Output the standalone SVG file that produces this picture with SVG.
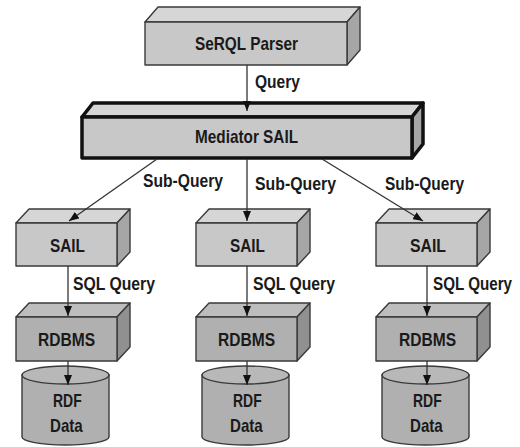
<svg xmlns="http://www.w3.org/2000/svg" width="520" height="447" viewBox="0 0 520 447">
<defs>
<marker id="ah" markerUnits="userSpaceOnUse" markerWidth="10" markerHeight="8" refX="10" refY="4" orient="auto">
<path d="M0,0 L10,4 L0,8 Z" fill="#111"/>
</marker>
<style>
.front{fill:#c8c8c8;stroke:#3a3a3a;stroke-width:1.4;stroke-linejoin:round}
.top{fill:#d6d6d6;stroke:#3a3a3a;stroke-width:1.4;stroke-linejoin:round}
.side{fill:#a6a6a6;stroke:#3a3a3a;stroke-width:1.4;stroke-linejoin:round}
.dfront{fill:#b0b0b0;stroke:#3a3a3a;stroke-width:1.4;stroke-linejoin:round}
.dtop{fill:#bdbdbd;stroke:#3a3a3a;stroke-width:1.4;stroke-linejoin:round}
.dside{fill:#909090;stroke:#3a3a3a;stroke-width:1.4;stroke-linejoin:round}
.thick{stroke:#111;stroke-width:3.5}
.cyl{fill:#b0b0b0;stroke:#3a3a3a;stroke-width:1.4}
.cyltop{fill:#b8b8b8;stroke:#3a3a3a;stroke-width:1.4}
.t{font-family:"Liberation Sans",Arial,sans-serif;font-weight:bold;font-size:19px;fill:#1a1a1a}
.c{stroke:#333;stroke-width:1.3;fill:none;marker-end:url(#ah)}
</style>
</defs>
<g id="serql-parser">
<polygon class="top" points="145,22 158,7 360,7 347,22"/>
<polygon class="side" points="347,22 360,7 360,50 347,65"/>
<rect class="front" x="145" y="22" width="202" height="43"/>
<text class="t" x="195" y="50" textLength="103" lengthAdjust="spacingAndGlyphs">SeRQL Parser</text>
</g>
<g id="mediator-sail">
<polygon class="top thick" points="82,117 93,103 423,103 412,117"/>
<polygon class="side thick" points="412,117 423,103 423,144 412,158"/>
<rect class="front thick" x="82" y="117" width="330" height="41"/>
<text class="t" x="195" y="143" textLength="103" lengthAdjust="spacingAndGlyphs">Mediator SAIL</text>
</g>
<g id="sail-1">
<polygon class="top" points="16,223 29,209 130,209 117,223"/>
<polygon class="side" points="117,223 130,209 130,252 117,266"/>
<rect class="front" x="16" y="223" width="101" height="43"/>
<text class="t" x="50" y="252" textLength="35" lengthAdjust="spacingAndGlyphs">SAIL</text>
</g>
<g id="sail-2">
<polygon class="top" points="196,223 209,209 310,209 297,223"/>
<polygon class="side" points="297,223 310,209 310,252 297,266"/>
<rect class="front" x="196" y="223" width="101" height="43"/>
<text class="t" x="230" y="252" textLength="35" lengthAdjust="spacingAndGlyphs">SAIL</text>
</g>
<g id="sail-3">
<polygon class="top" points="376,223 389,209 490,209 477,223"/>
<polygon class="side" points="477,223 490,209 490,252 477,266"/>
<rect class="front" x="376" y="223" width="101" height="43"/>
<text class="t" x="410" y="252" textLength="36" lengthAdjust="spacingAndGlyphs">SAIL</text>
</g>
<g id="rdbms-1">
<polygon class="dtop" points="16,317 29,303 130,303 117,317"/>
<polygon class="dside" points="117,317 130,303 130,347 117,361"/>
<rect class="dfront" x="16" y="317" width="101" height="44"/>
<text class="t" x="38" y="345.5" textLength="57" lengthAdjust="spacingAndGlyphs">RDBMS</text>
</g>
<g id="rdbms-2">
<polygon class="dtop" points="196,317 209,303 310,303 297,317"/>
<polygon class="dside" points="297,317 310,303 310,347 297,361"/>
<rect class="dfront" x="196" y="317" width="101" height="44"/>
<text class="t" x="218" y="345.5" textLength="57" lengthAdjust="spacingAndGlyphs">RDBMS</text>
</g>
<g id="rdbms-3">
<polygon class="dtop" points="376,317 389,303 490,303 477,317"/>
<polygon class="dside" points="477,317 490,303 490,347 477,361"/>
<rect class="dfront" x="376" y="317" width="101" height="44"/>
<text class="t" x="399" y="345.5" textLength="57" lengthAdjust="spacingAndGlyphs">RDBMS</text>
</g>
<g id="rdf-data-1">
<path class="cyl" d="M22,375 L22,437 A43.5,8 0 0 0 109,437 L109,375 Z"/>
<ellipse class="cyltop" cx="65.5" cy="375" rx="43.5" ry="9"/>
<text class="t" x="53" y="406.7" textLength="28.7" lengthAdjust="spacingAndGlyphs">RDF</text>
<text class="t" x="50" y="431.7" textLength="32.7" lengthAdjust="spacingAndGlyphs">Data</text>
</g>
<g id="rdf-data-2">
<path class="cyl" d="M202,375 L202,437 A43.5,8 0 0 0 289,437 L289,375 Z"/>
<ellipse class="cyltop" cx="245.5" cy="375" rx="43.5" ry="9"/>
<text class="t" x="233" y="406.7" textLength="28.7" lengthAdjust="spacingAndGlyphs">RDF</text>
<text class="t" x="230" y="431.7" textLength="32.7" lengthAdjust="spacingAndGlyphs">Data</text>
</g>
<g id="rdf-data-3">
<path class="cyl" d="M382,375 L382,437 A43.5,8 0 0 0 469,437 L469,375 Z"/>
<ellipse class="cyltop" cx="425.5" cy="375" rx="43.5" ry="9"/>
<text class="t" x="413" y="406.7" textLength="28.7" lengthAdjust="spacingAndGlyphs">RDF</text>
<text class="t" x="410" y="431.7" textLength="32.7" lengthAdjust="spacingAndGlyphs">Data</text>
</g>
<g id="connectors">
<line class="c" x1="247" y1="65" x2="247" y2="111"/>
<line class="c" x1="157" y1="159" x2="69" y2="221"/>
<line class="c" x1="247" y1="159" x2="247" y2="221"/>
<line class="c" x1="322" y1="159" x2="423" y2="221"/>
<line class="c" x1="68" y1="266" x2="68" y2="316"/>
<line class="c" x1="247" y1="266" x2="247" y2="316"/>
<line class="c" x1="427" y1="266" x2="427" y2="316"/>
<line class="c" x1="68" y1="361" x2="68" y2="385"/>
<line class="c" x1="247" y1="361" x2="247" y2="385"/>
<line class="c" x1="427" y1="361" x2="427" y2="385"/>
<text class="t" x="255" y="88" textLength="45" lengthAdjust="spacingAndGlyphs">Query</text>
<text class="t" x="143" y="187" textLength="80" lengthAdjust="spacingAndGlyphs">Sub-Query</text>
<text class="t" x="255" y="190" textLength="81" lengthAdjust="spacingAndGlyphs">Sub-Query</text>
<text class="t" x="385" y="190" textLength="79" lengthAdjust="spacingAndGlyphs">Sub-Query</text>
<text class="t" x="73" y="290" textLength="82" lengthAdjust="spacingAndGlyphs">SQL Query</text>
<text class="t" x="253" y="290" textLength="82" lengthAdjust="spacingAndGlyphs">SQL Query</text>
<text class="t" transform="translate(433,290) scale(0.8,1)" x="0" y="0">SQL Query</text>
</g>
</svg>
